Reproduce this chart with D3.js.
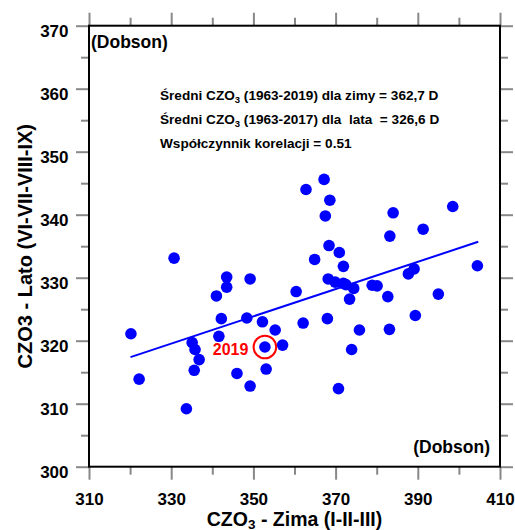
<!DOCTYPE html>
<html><head><meta charset="utf-8">
<script src="https://cdn.jsdelivr.net/npm/d3@7"></script>
<style>
body{margin:0;background:#fff}
text{font-family:"Liberation Sans",Arial,sans-serif;font-weight:bold}
</style>
</head><body>
<svg id="chart" width="515" height="530"></svg>
<script>
// Winter (I-II-III) total ozone, Dobson units
const winter = [320.2,322.2,330.7,333.7,335.1,335.8,336.8,335.6,341.0,343.5,
  343.5,341.6,342.2,346.0,349.2,348.4,349.2,352.2,355.3,357.1,
  352.8,353.1,360.4,362.1,362.8,367.2,368.6,367.5,368.4,370.9,
  364.9,371.9,368.2,369.9,371.9,372.5,374.4,373.4,368.0,375.8,
  373.9,370.7,378.9,380.1,382.7,383.1,383.2,384.0,387.7,389.1,
  389.4,391.3,395.0,398.5,404.5];
// Summer (VI-VII-VIII-IX) total ozone, Dobson units
const summer = [321.1,313.9,333.1,309.2,319.7,318.6,317.0,315.3,327.1,330.1,
  328.5,320.7,323.5,314.8,329.8,323.6,312.8,323.0,321.7,319.3,
  319.0,315.5,327.8,322.8,344.0,345.6,342.3,339.8,335.1,334.0,
  332.9,331.8,329.8,329.3,329.1,328.9,328.3,326.6,323.5,321.7,
  318.6,312.4,328.8,328.7,327.0,321.8,336.6,340.3,330.6,331.4,
  324.0,337.7,327.4,341.3,331.9];
const trendWinter = [320.1, 404.7];
const trendSummer = [317.4, 335.7];
const highlightLabel = "2019";
const highlightWinter = 352.8;
const highlightSummer = 319.0;

const xMajor = [310,330,350,370,390,410];
const xMinor = [320,340,360,380,400];
const yMajor = [300,310,320,330,340,350,360,370];
const yMinor = [305,315,325,335,345,355,365];

const svg = d3.select("#chart");
const L=89, R=500, T=25.7, B=466.7;
const x = d3.scaleLinear().domain([310,410]).range([L,R]);
const y = d3.scaleLinear().domain([300,370]).range([B,T]);
const tickColor = "#888";
const FF = "Liberation Sans, Arial, sans-serif";

function styleAxis(g){
  g.select(".domain").remove();
  g.selectAll(".tick line").attr("stroke",tickColor).attr("stroke-width",2);
}
// bottom
const gb = svg.append("g").attr("transform",`translate(0,${B})`)
  .call(d3.axisBottom(x).tickValues(xMajor).tickSize(13).tickFormat(d3.format("d")));
styleAxis(gb);
gb.selectAll("text").attr("y",26).attr("dy","0.71em").attr("font-size",17).attr("fill","#000")
  .attr("font-family",FF);
const gbm = svg.append("g").attr("transform",`translate(0,${B})`)
  .call(d3.axisBottom(x).tickValues(xMinor).tickSize(8).tickFormat(""));
styleAxis(gbm);
// top
const gt = svg.append("g").attr("transform",`translate(0,${T})`)
  .call(d3.axisTop(x).tickValues(xMajor).tickSize(13).tickFormat(""));
styleAxis(gt);
const gtm = svg.append("g").attr("transform",`translate(0,${T})`)
  .call(d3.axisTop(x).tickValues(xMinor).tickSize(8).tickFormat(""));
styleAxis(gtm);
// left
const gl = svg.append("g").attr("transform",`translate(${L},0)`)
  .call(d3.axisLeft(y).tickValues(yMajor).tickSize(13).tickFormat(d3.format("d")));
styleAxis(gl);
gl.selectAll("text").attr("x",-20.5).attr("dy",10.6).attr("font-size",17).attr("fill","#000")
  .attr("font-family",FF);
const glm = svg.append("g").attr("transform",`translate(${L},0)`)
  .call(d3.axisLeft(y).tickValues(yMinor).tickSize(8).tickFormat(""));
styleAxis(glm);
// right
const gr = svg.append("g").attr("transform",`translate(${R},0)`)
  .call(d3.axisRight(y).tickValues(yMajor).tickSize(13).tickFormat(""));
styleAxis(gr);
const grm = svg.append("g").attr("transform",`translate(${R},0)`)
  .call(d3.axisRight(y).tickValues(yMinor).tickSize(8).tickFormat(""));
styleAxis(grm);

// frame
svg.append("rect").attr("x",L).attr("y",T).attr("width",R-L).attr("height",B-T)
  .attr("fill","none").attr("stroke","#000").attr("stroke-width",2);

// trend line
svg.append("line")
  .attr("x1",x(trendWinter[0])).attr("y1",y(trendSummer[0]))
  .attr("x2",x(trendWinter[1])).attr("y2",y(trendSummer[1]))
  .attr("stroke","#0000ff").attr("stroke-width",2);

// points
svg.append("g").selectAll("circle").data(winter.map((w,i)=>[w,summer[i]])).join("circle")
  .attr("cx",d=>x(d[0])).attr("cy",d=>y(d[1])).attr("r",5.8).attr("fill","#0000ff");

// highlight
svg.append("circle").attr("cx",x(highlightWinter)).attr("cy",y(highlightSummer)).attr("r",11.3)
  .attr("fill","none").attr("stroke","#ff0000").attr("stroke-width",2);
svg.append("text").attr("x",x(highlightWinter)-16.5).attr("y",y(highlightSummer)+7.5)
  .attr("text-anchor","end").attr("font-size",16).attr("fill","#ff0000").text(highlightLabel);

// Dobson labels
svg.append("text").attr("x",91).attr("y",48).attr("font-size",17.5).text("(Dobson)");
svg.append("text").attr("x",490).attr("y",453).attr("text-anchor","end").attr("font-size",17.5).text("(Dobson)");

// annotations
const AF = 13.6;
function subLine(yy, pre, post){
  const t = svg.append("text").attr("x",160).attr("y",yy).attr("font-size",AF).style("white-space","pre");
  t.append("tspan").text(pre);
  t.append("tspan").attr("dy",3.8).attr("font-size",9.5).text("3");
  t.append("tspan").attr("dy",-3.8).text(post);
}
subLine(99.5, "Średni CZO", " (1963-2019) dla zimy = 362,7 D");
subLine(123.5, "Średni CZO", " (1963-2017) dla  lata  = 326,6 D");
svg.append("text").attr("x",160).attr("y",148).attr("font-size",AF).text("Współczynnik korelacji = 0.51");

// axis titles
const xt = svg.append("text").attr("x",(L+R)/2).attr("y",525.5).attr("text-anchor","middle").attr("font-size",19.5);
xt.append("tspan").text("CZO");
xt.append("tspan").attr("dy",3).attr("font-size",13.5).text("3");
xt.append("tspan").attr("dy",-3).text(" - Zima (I-II-III)");
svg.append("text").attr("transform",`translate(32,${(T+B)/2}) rotate(-90)`)
  .attr("text-anchor","middle").attr("font-size",20).text("CZO3 - Lato (VI-VII-VIII-IX)");
</script>
</body></html>
